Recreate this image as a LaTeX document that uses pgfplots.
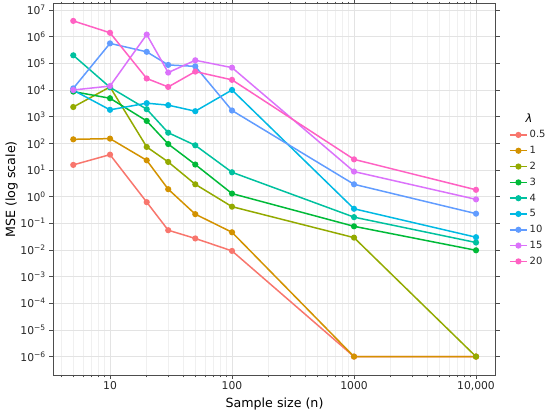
\documentclass[border=0pt]{standalone}
\usepackage{fontspec}
\setmainfont{DejaVu Sans}
\usepackage{pgfplots}
\pgfplotsset{compat=1.18}
\definecolor{c05}{HTML}{F8766D}
\definecolor{c1}{HTML}{D39200}
\definecolor{c2}{HTML}{93AA00}
\definecolor{c3}{HTML}{00BA38}
\definecolor{c4}{HTML}{00C19F}
\definecolor{c5}{HTML}{00B9E3}
\definecolor{c10}{HTML}{619CFF}
\definecolor{c15}{HTML}{DB72FB}
\definecolor{c20}{HTML}{FF61C3}
\definecolor{frame}{HTML}{4D4D4D}
\begin{document}
\begin{tikzpicture}
\useasboundingbox (0,0) rectangle (550bp,413bp);
\begin{axis}[
  name=ax,
  at={(53.3bp,38bp)}, anchor=south west,
  scale only axis, width=442.4bp, height=371bp,
  xmode=log, ymode=log, log basis x=10, log basis y=10,
  xmin=3.43, xmax=14500, ymin=2.04e-7, ymax=1.68e7,
  xtick={10,100,1000,10000},
  xticklabels={10,100,1000,{10,000}},
  minor xtick={4,5,6,7,8,9,20,30,40,50,60,70,80,90,200,300,400,500,600,700,800,900,2000,3000,4000,5000,6000,7000,8000,9000},
  ytick={1e-6,1e-5,1e-4,1e-3,1e-2,1e-1,1,10,100,1e3,1e4,1e5,1e6,1e7},
  yticklabels={10\textsuperscript{−6},10\textsuperscript{−5},10\textsuperscript{−4},10\textsuperscript{−3},10\textsuperscript{−2},10\textsuperscript{−1},10\textsuperscript{0},10\textsuperscript{1},10\textsuperscript{2},10\textsuperscript{3},10\textsuperscript{4},10\textsuperscript{5},10\textsuperscript{6},10\textsuperscript{7}},
  minor ytick={},
  tick align=outside,
  major tick length=4bp, minor tick length=2.5bp,
  tick style={draw=frame, line width=0.6bp},
  minor tick style={draw=frame, line width=0.5bp},
  axis line style={draw=frame, line width=1bp},
  xmajorgrids, xminorgrids, ymajorgrids,
  major grid style={draw=black!11, line width=0.8bp},
  minor grid style={draw=black!6, line width=0.5bp},
  ticklabel style={font=\fontsize{10.8}{12}\selectfont, text=black!85},
  xticklabel style={yshift=1bp},
  xlabel={Sample size (n)}, ylabel={MSE (log scale)},
  label style={font=\fontsize{12.7}{14}\selectfont},
  xlabel style={yshift=0bp},
  ylabel style={yshift=-4bp},
  every axis plot/.append style={line width=1.5bp, mark=*, mark size=2.3bp},
  legend style={at={(1.03,0.665)}, anchor=north west, draw=none, fill=none,
    font=\fontsize{10}{12}\selectfont, row sep=3bp, inner sep=0pt, text=black!85},
  legend cell align=left,
  legend image code/.code={\draw[mark repeat=2,mark phase=2] plot coordinates {(0bp,0bp) (8.5bp,0bp) (17bp,0bp)};},
]
\addplot[c05] coordinates {(5,15.5) (10,37.6) (20,0.62) (30,0.055) (50,0.027) (100,0.0092) (1000,1e-6) (10000,1e-6)};
\addlegendentry{0.5}
\addplot[c1] coordinates {(5,141) (10,150) (20,23) (30,1.9) (50,0.22) (100,0.046) (1000,1e-6) (10000,1e-6)};
\addlegendentry{1}
\addplot[c2] coordinates {(5,2300) (10,13000) (20,73) (30,20) (50,2.9) (100,0.42) (1000,0.029) (10000,1e-6)};
\addlegendentry{2}
\addplot[c3] coordinates {(5,8700) (10,4900) (20,690) (30,94) (50,16) (100,1.3) (1000,0.077) (10000,0.0097)};
\addlegendentry{3}
\addplot[c4] coordinates {(5,200000) (10,12600) (20,1900) (30,250) (50,84) (100,8.2) (1000,0.17) (10000,0.019)};
\addlegendentry{4}
\addplot[c5] coordinates {(5,9800) (10,1800) (20,3200) (30,2700) (50,1600) (100,10000) (1000,0.35) (10000,0.03)};
\addlegendentry{5}
\addplot[c10] coordinates {(5,11500) (10,560000) (20,270000) (30,87000) (50,77000) (100,1700) (1000,2.9) (10000,0.23)};
\addlegendentry{10}
\addplot[c15] coordinates {(5,10000) (10,14000) (20,1200000) (30,45000) (50,130000) (100,69000) (1000,8.7) (10000,0.79)};
\addlegendentry{15}
\addplot[c20] coordinates {(5,3900000) (10,1400000) (20,27000) (30,13000) (50,49000) (100,24000) (1000,25) (10000,1.8)};
\addlegendentry{20}
\end{axis}
\path (ax.south west) ++(475.7bp,257bp) node[font=\fontsize{11.5}{13}\selectfont\itshape, text=black, anchor=center] {λ};
\end{tikzpicture}
\end{document}
